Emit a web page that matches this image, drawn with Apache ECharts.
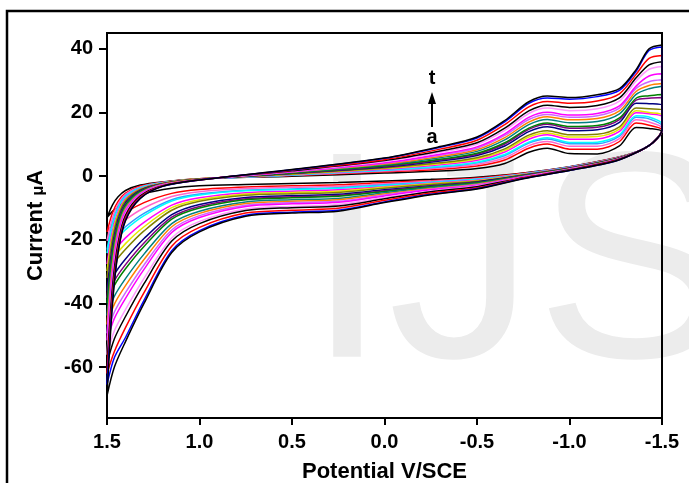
<!DOCTYPE html>
<html>
<head>
<meta charset="utf-8">
<script src="https://cdn.jsdelivr.net/npm/echarts@6/dist/echarts.min.js"></script>
<style>
html, body { margin: 0; padding: 0; background: #fff; }
#cv { width: 689px; height: 483px; }
</style>
</head>
<body>
<div id="cv"></div>
<script>
// potentials (V/SCE) of the forward (upper) and return (lower) branches
var potUp = [1.5, 1.47, 1.44, 1.4, 1.32, 1.2, 1.0, 0.5, 0.0, -0.3, -0.5, -0.65, -0.78, -0.88, -1.0, -1.15, -1.27, -1.36, -1.43, -1.5];
var potLo = [-1.5, -1.45, -1.38, -1.25, -1.0, -0.75, -0.5, -0.25, 0.0, 0.25, 0.5, 0.75, 1.0, 1.15, 1.3, 1.4, 1.46, 1.5];

// currents (uA), curve a -> t
var aUp = [-13, -9, -6.5, -4.5, -2.8, -1.8, -0.8, 0.0, 1.0, 1.6, 2.4, 4.0, 7.5, 8.8, 7.1, 7.0, 9.5, 15.3, 15.0, 14.0];
var aLo = [14.0, 10.5, 8.0, 5.8, 3.0, 1.0, -0.3, -1.0, -1.5, -2.0, -2.3, -2.6, -3.0, -3.8, -5.5, -8.0, -10.5, -13.0];
var bUp = [-17.5, -11.5, -7.9, -5.3, -3.1, -1.9, -0.8, 0.2, 1.4, 2.2, 3.2, 5.1, 8.8, 10.1, 8.5, 8.5, 10.9, 16.7, 16.0, 14.5];
var bLo = [14.5, 10.5, 8.0, 5.7, 2.9, 0.9, -0.6, -1.4, -2.0, -2.7, -3.0, -3.4, -4.2, -5.4, -8.3, -11.5, -14.5, -17.5];
var cUp = [-20.3, -13.0, -8.8, -5.7, -3.4, -2.0, -0.9, 0.3, 1.6, 2.6, 3.7, 5.8, 9.6, 10.9, 9.4, 9.4, 11.8, 17.7, 17.0, 15.2];
var cLo = [14.5, 10.5, 8.0, 5.7, 2.8, 0.8, -0.8, -1.6, -2.4, -3.2, -3.5, -3.9, -4.9, -6.4, -10.0, -13.7, -16.9, -20.3];
var dUp = [-23.1, -14.6, -9.7, -6.2, -3.6, -2.1, -0.9, 0.4, 1.9, 2.9, 4.2, 6.5, 10.4, 11.7, 10.2, 10.2, 12.6, 18.5, 18.0, 15.8];
var dLo = [14.5, 10.5, 8.0, 5.6, 2.8, 0.7, -1.0, -1.9, -2.7, -3.6, -4.0, -4.4, -5.6, -7.4, -11.7, -15.9, -19.4, -23.1];
var eUp = [-24.2, -15.2, -10.0, -6.4, -3.6, -2.1, -0.9, 0.4, 1.9, 3.1, 4.4, 6.8, 10.7, 12.1, 10.6, 10.7, 13.0, 19.0, 18.6, 16.4];
var eLo = [14.5, 10.5, 8.0, 5.6, 2.8, 0.6, -1.0, -2.0, -2.9, -3.8, -4.2, -4.6, -5.9, -7.8, -12.4, -16.8, -20.4, -24.2];
var fUp = [-27.6, -17.1, -11.1, -7.0, -3.9, -2.2, -0.9, 0.5, 2.2, 3.6, 5.0, 7.6, 11.6, 13.0, 11.6, 11.7, 14.1, 19.9, 19.6, 18.7];
var fLo = [14.5, 10.5, 8.0, 5.5, 2.7, 0.5, -1.3, -2.2, -3.3, -4.3, -4.7, -5.2, -6.8, -9.1, -14.5, -19.4, -23.4, -27.6];
var gUp = [-29.8, -18.3, -11.8, -7.4, -4.1, -2.2, -0.9, 0.6, 2.4, 3.9, 5.4, 8.1, 12.3, 13.6, 12.3, 12.5, 14.8, 20.6, 20.0, 19.2];
var gLo = [14.5, 10.5, 8.0, 5.5, 2.6, 0.5, -1.4, -2.4, -3.5, -4.7, -5.1, -5.6, -7.4, -9.9, -15.9, -21.2, -25.4, -29.8];
var hUp = [-32.0, -19.5, -12.5, -7.7, -4.2, -2.3, -0.9, 0.7, 2.6, 4.2, 5.8, 8.6, 12.9, 14.3, 13.0, 13.2, 15.5, 21.4, 21.2, 20.8];
var hLo = [14.5, 10.5, 8.0, 5.5, 2.6, 0.4, -1.6, -2.6, -3.8, -5.1, -5.5, -6.0, -7.9, -10.7, -17.2, -23.0, -27.3, -32.0];
var iUp = [-36.0, -21.7, -13.7, -8.4, -4.5, -2.4, -1.0, 0.9, 2.9, 4.8, 6.5, 9.5, 14.0, 15.5, 14.3, 14.6, 16.9, 22.9, 22.8, 22.3];
var iLo = [14.5, 10.5, 8.0, 5.4, 2.5, 0.3, -1.8, -3.0, -4.3, -5.7, -6.1, -6.7, -8.9, -12.1, -19.6, -26.0, -30.8, -36.0];
var jUp = [-38.2, -23.0, -14.4, -8.8, -4.7, -2.4, -1.0, 0.9, 3.1, 5.1, 6.9, 10.1, 14.7, 16.3, 15.1, 15.4, 17.8, 23.9, 24.5, 24.7];
var jLo = [14.5, 10.5, 8.0, 5.4, 2.5, 0.2, -2.0, -3.2, -4.6, -6.1, -6.5, -7.1, -9.5, -12.9, -21.0, -27.8, -32.8, -38.2];
var kUp = [-39.9, -23.9, -14.9, -9.1, -4.8, -2.5, -1.0, 1.0, 3.3, 5.3, 7.2, 10.5, 15.1, 16.7, 15.6, 15.9, 18.3, 24.5, 25.3, 25.7];
var kLo = [14.5, 10.5, 8.0, 5.3, 2.4, 0.1, -2.1, -3.3, -4.8, -6.3, -6.8, -7.4, -10.0, -13.5, -22.1, -29.1, -34.3, -39.9];
var lUp = [-43.8, -26.1, -16.1, -9.7, -5.1, -2.6, -1.0, 1.2, 3.6, 5.8, 7.8, 11.4, 16.2, 17.8, 16.8, 17.2, 19.6, 25.7, 27.5, 28.3];
var lLo = [14.5, 10.5, 8.0, 5.2, 2.3, 0.0, -2.3, -3.6, -5.2, -7.0, -7.4, -8.1, -11.0, -14.9, -24.5, -32.2, -37.7, -43.8];
var mUp = [-46.6, -27.6, -17.0, -10.2, -5.3, -2.6, -1.0, 1.3, 3.8, 6.2, 8.3, 12.1, 17.0, 18.7, 17.7, 18.1, 20.5, 26.6, 28.5, 29.1];
var mLo = [14.5, 10.5, 8.0, 5.2, 2.3, -0.1, -2.5, -3.9, -5.6, -7.4, -7.9, -8.6, -11.7, -15.9, -26.2, -34.4, -40.2, -46.6];
var nUp = [-49.4, -29.2, -17.9, -10.7, -5.5, -2.7, -1.1, 1.4, 4.1, 6.6, 8.8, 12.8, 17.8, 19.4, 18.5, 19.0, 21.4, 27.6, 29.7, 30.3];
var nLo = [14.5, 10.5, 8.0, 5.2, 2.2, -0.2, -2.7, -4.1, -5.9, -7.9, -8.3, -9.1, -12.4, -16.9, -27.9, -36.6, -42.7, -49.4];
var oUp = [-51.6, -30.4, -18.6, -11.1, -5.7, -2.8, -1.1, 1.4, 4.2, 6.9, 9.2, 13.3, 18.5, 20.1, 19.2, 19.7, 22.1, 28.3, 31.5, 32.2];
var oLo = [14.5, 10.5, 8.0, 5.1, 2.2, -0.2, -2.9, -4.3, -6.2, -8.2, -8.7, -9.5, -13.0, -17.7, -29.3, -38.4, -44.7, -51.6];
var pUp = [-56.1, -32.9, -20.0, -11.8, -6.0, -2.9, -1.1, 1.6, 4.6, 7.5, 10.0, 14.4, 19.7, 21.4, 20.6, 21.2, 23.6, 29.9, 33.6, 34.5];
var pLo = [14.5, 10.5, 8.0, 5.0, 2.1, -0.4, -3.1, -4.7, -6.7, -8.9, -9.5, -10.3, -14.2, -19.4, -32.1, -41.9, -48.6, -56.1];
var qUp = [-58.9, -34.4, -20.9, -12.3, -6.2, -3.0, -1.1, 1.7, 4.9, 7.9, 10.5, 15.1, 20.5, 22.3, 21.6, 22.2, 24.6, 30.9, 35.0, 36.0];
var qLo = [14.5, 10.5, 8.0, 5.0, 2.0, -0.5, -3.3, -4.9, -7.1, -9.4, -9.9, -10.8, -14.9, -20.4, -33.8, -44.1, -51.1, -58.9];
var rUp = [-62.0, -36.9, -22.3, -13.1, -6.6, -3.1, -1.2, 1.9, 5.2, 8.5, 11.3, 16.2, 21.8, 23.5, 22.9, 23.6, 25.9, 32.0, 37.0, 37.9];
var rLo = [14.5, 10.5, 8.0, 4.9, 1.9, -0.6, -3.6, -5.3, -7.6, -10.1, -10.7, -11.6, -16.1, -22.0, -36.6, -47.6, -55.1, -62.0];
var sUp = [-65.5, -39.0, -23.5, -13.7, -6.9, -3.2, -1.2, 2.0, 5.6, 9.1, 12.0, 17.1, 22.9, 24.6, 24.2, 25.0, 27.0, 33.0, 39.5, 40.6];
var sLo = [14.5, 10.5, 8.0, 4.8, 1.8, -0.7, -3.9, -5.7, -8.1, -10.7, -11.3, -12.3, -17.1, -23.4, -39.0, -50.7, -57.0, -65.5];
var tUp = [-69, -40, -24, -14, -7, -3.2, -1.2, 2.1, 5.7, 9.3, 12.3, 17.5, 23.4, 25.2, 24.7, 25.6, 27.5, 33.5, 40.0, 41.2];
var tLo = [14.5, 10.5, 8.0, 4.8, 1.8, -0.8, -4.0, -5.8, -8.3, -11.0, -11.6, -12.6, -17.5, -24.0, -40.0, -52.0, -60.0, -69.0];

var curveNames = ['a', 'b', 'c', 'd', 'e', 'f', 'g', 'h', 'i', 'j', 'k', 'l', 'm', 'n', 'o', 'p', 'q', 'r', 's', 't'];
var upper = [aUp, bUp, cUp, dUp, eUp, fUp, gUp, hUp, iUp, jUp, kUp, lUp, mUp, nUp, oUp, pUp, qUp, rUp, sUp, tUp];
var lower = [aLo, bLo, cLo, dLo, eLo, fLo, gLo, hLo, iLo, jLo, kLo, lLo, mLo, nLo, oLo, pLo, qLo, rLo, sLo, tLo];
var colors = ['#000000', '#ff0000', '#ff66cc', '#3399ff', '#00ffff', '#ff00ff', '#e6e600', '#808000', '#000080', '#800080',
	'#008000', '#008080', '#ff8000', '#cc66ff', '#ff00ff', '#ff99ff', '#000000', '#ff0000', '#0000ff', '#000000'];

var yTicks = [-60, -40, -20, 0, 20, 40];

var myChart = echarts.init(document.getElementById('cv'), null, { renderer: 'canvas' });

var series = curveNames.map(function (n, i) {
	var pts = [];
	upper[i].forEach(function (v, j) { pts.push([potUp[j], v]); });
	lower[i].forEach(function (v, j) { pts.push([potLo[j], v]); });
	return {
		name: n,
		type: 'line',
		data: pts,
		smooth: 0.3,
		showSymbol: false,
		silent: true,
		lineStyle: { width: 1.5, color: colors[i] }
	};
});

var labelFont = { color: '#000', fontFamily: 'Liberation Sans, Arial', fontWeight: 'bold', fontSize: 20 };

option = {
	animation: false,
	grid: {
		left: 107, right: 27, top: 33, bottom: 65,
		outerBoundsMode: 'none',
		show: true, borderColor: '#000', borderWidth: 2
	},
	xAxis: {
		type: 'value',
		inverse: true,
		min: -1.5,
		max: 1.5,
		interval: 0.5,
		name: 'Potential V/SCE',
		nameLocation: 'middle',
		nameGap: 43,
		nameTextStyle: { color: '#000', fontFamily: 'Liberation Sans, Arial', fontWeight: 'bold', fontSize: 22 },
		axisLine: { show: true, onZero: false, lineStyle: { color: '#000', width: 2 } },
		axisTick: { show: true, inside: false, length: 7, lineStyle: { color: '#000', width: 2 } },
		axisLabel: Object.assign({ margin: 14, formatter: function (v) { return v.toFixed(1); } }, labelFont),
		splitLine: { show: false }
	},
	yAxis: {
		type: 'value',
		min: -76,
		max: 45,
		name: '{a|Current }{b|μ}{a|A}',
		nameLocation: 'middle',
		nameGap: 60,
		nameTextStyle: {
			rich: {
				a: { color: '#000', fontFamily: 'Liberation Sans, Arial', fontWeight: 'bold', fontSize: 22 },
				b: { color: '#000', fontFamily: 'Liberation Sans, Arial', fontWeight: 'bold', fontSize: 16, padding: [6, 0, 0, 0] }
			}
		},
		axisLine: { show: true, onZero: false, lineStyle: { color: '#000', width: 2 } },
		axisTick: { show: true, inside: false, length: 8, customValues: yTicks, lineStyle: { color: '#000', width: 2 } },
		axisLabel: Object.assign({ margin: 14, customValues: yTicks }, labelFont),
		splitLine: { show: false }
	},
	graphic: [
		{
			type: 'text', z: -10, left: 306, top: 128,
			style: { text: 'IJS', font: '295px "Liberation Sans", Arial', fill: '#ececec' }
		},
		{
			type: 'rect', z: 100,
			shape: { x: 7, y: 11, width: 720, height: 520 },
			style: { fill: 'none', stroke: '#000', lineWidth: 2.5 }
		},
		{
			type: 'text', z: 100, x: 432, y: 78,
			style: { text: 't', font: 'bold 20px "Liberation Sans", Arial', fill: '#000', align: 'center', verticalAlign: 'middle' }
		},
		{
			type: 'line', z: 100,
			shape: { x1: 432, y1: 127, x2: 432, y2: 100 },
			style: { stroke: '#000', lineWidth: 2 }
		},
		{
			type: 'polygon', z: 100,
			shape: { points: [[432, 92], [428, 104], [436, 104]] },
			style: { fill: '#000' }
		},
		{
			type: 'text', z: 100, x: 432, y: 137,
			style: { text: 'a', font: 'bold 20px "Liberation Sans", Arial', fill: '#000', align: 'center', verticalAlign: 'middle' }
		}
	],
	series: series
};

myChart.setOption(option);
</script>
</body>
</html>
